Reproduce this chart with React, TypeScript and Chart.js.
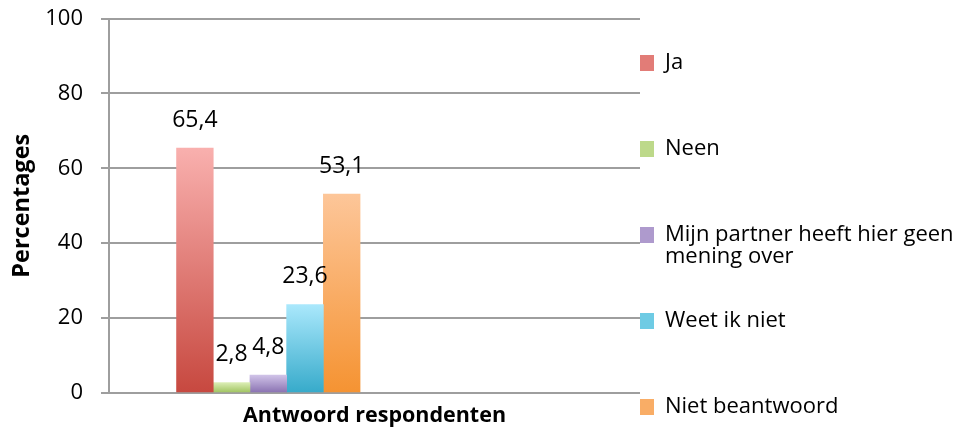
import React, { useEffect, useRef } from 'react';
import { Chart, registerables } from 'chart.js';

Chart.register(...registerables);

// ---- data ----
const categorySlots = ['', '', '', 'Antwoord respondenten', '', '', '', '', '', '', ''];
const answerCategory = 'Antwoord respondenten';
const seriesNames = ['Ja', 'Neen', 'Mijn partner heeft hier geen mening over', 'Weet ik niet', 'Niet beantwoord'];
const jaValues = [65.4];
const neenValues = [2.8];
const geenMeningValues = [4.8];
const weetNietValues = [23.6];
const nietBeantwoordValues = [53.1];
const yTicks = [0, 20, 40, 60, 80, 100];
const xAxisTitle = 'Antwoord respondenten';
const yAxisTitle = 'Percentages';
const legendLines = [['Ja'], ['Neen'], ['Mijn partner heeft hier geen', 'mening over'], ['Weet ik niet'], ['Niet beantwoord']];

// ---- styles ----
const topColors = ['#F9B0AE', '#DCEEB6', '#D0C3E8', '#AAE8FC', '#FDC699'];
const bottomColors = ['#C7483F', '#9DC25C', '#8870B0', '#36AACA', '#F59332'];
const legendColors = ['#E27C77', '#BDD98A', '#AE9ACD', '#6ECBE4', '#F9AD66'];
const FONT = '"Open Sans", "Liberation Sans", sans-serif';
const GRID = '#9E9E9E';

const seriesValues = [jaValues, neenValues, geenMeningValues, weetNietValues, nietBeantwoordValues];

function gradientFill(i: number) {
  return (ctx: any) => {
    const chart = ctx.chart;
    const y = chart.scales && chart.scales.y;
    if (ctx.type !== 'data' || !y || ctx.parsed == null) return bottomColors[i];
    const top = y.getPixelForValue(ctx.parsed.y);
    const base = y.getPixelForValue(0);
    if (!isFinite(top) || !isFinite(base) || top === base) return bottomColors[i];
    const g = chart.ctx.createLinearGradient(0, top, 0, base);
    g.addColorStop(0, topColors[i]);
    g.addColorStop(1, bottomColors[i]);
    return g;
  };
}

const valueLabels = {
  id: 'valueLabels',
  afterDatasetsDraw(chart: any) {
    const ctx = chart.ctx;
    ctx.save();
    ctx.font = `23px ${FONT}`;
    ctx.fillStyle = '#000';
    ctx.textAlign = 'center';
    ctx.textBaseline = 'middle';
    chart.data.datasets.forEach((ds: any, di: number) => {
      const meta = chart.getDatasetMeta(di);
      meta.data.forEach((el: any, j: number) => {
        const v = ds.data[j].y;
        ctx.fillText(v.toFixed(1).replace('.', ','), el.x, el.y - 28);
      });
    });
    ctx.restore();
  },
};

export default function App() {
  const ref = useRef<HTMLCanvasElement>(null);
  useEffect(() => {
    if (!ref.current) return;
    const datasets = seriesNames.map((name, i) => ({
      label: name,
      data: seriesValues[i].map((v) => ({ x: answerCategory, y: v })),
      backgroundColor: gradientFill(i),
      borderWidth: 0,
      barThickness: 36.7,
    }));
    const chart = new Chart(ref.current, {
      type: 'bar',
      data: { labels: categorySlots, datasets },
      options: {
        responsive: false,
        animation: false,
        layout: { padding: { left: 0, top: 0, right: 0, bottom: 14 } },
        scales: {
          x: {
            type: 'category',
            offset: false,
            grid: { display: false },
            border: { display: false },
            ticks: { display: false },
            title: {
              display: true,
              text: xAxisTitle,
              color: '#000',
              font: { family: FONT, size: 21.5, weight: 'bold' },
              padding: { top: 0, bottom: -10.9 },
            },
            afterFit: (s: any) => { s.height = 25; },
          },
          y: {
            min: 0,
            max: 100,
            afterBuildTicks: (s: any) => { s.ticks = yTicks.map((v) => ({ value: v })); },
            ticks: {
              color: '#000',
              padding: 18,
              font: { family: FONT, size: 22, lineHeight: 0.05 },
            },
            grid: { color: GRID, lineWidth: 2, tickLength: 8, drawTicks: true },
            border: { display: true, color: GRID, width: 2 },
            title: {
              display: true,
              text: yAxisTitle,
              color: '#000',
              font: { family: FONT, size: 23.5, weight: 'bold' },
              padding: { top: 7.9, bottom: 0 },
            },
            afterFit: (s: any) => { s.width = 109; },
          },
        },
        plugins: {
          tooltip: { enabled: false },
          legend: {
            display: true,
            position: 'right',
            align: 'end',
            maxWidth: 322,
            labels: {
              color: '#000',
              font: { family: FONT, size: 22, lineHeight: 21.5 / 22 },
              boxWidth: 14,
              boxHeight: 16,
              padding: 0,
              generateLabels: () =>
                legendLines.map((lines, i) => {
                  const isLast = i === legendLines.length - 1;
                  let text: any;
                  if (isLast) {
                    text = lines.join(' ');
                  } else {
                    text = [...lines];
                    while (text.length < 4) text.push('');
                  }
                  return {
                    text,
                    fillStyle: legendColors[i],
                    strokeStyle: legendColors[i],
                    lineWidth: 0,
                    hidden: false,
                    datasetIndex: i,
                  } as any;
                }),
            },
          },
        },
      } as any,
      plugins: [valueLabels],
    });
    return () => chart.destroy();
  }, []);
  return (
    <div style={{ position: 'absolute', left: 0, top: 0, width: 962, height: 432, background: '#fff' }}>
      <canvas ref={ref} width={962} height={432} style={{ display: 'block' }} />
    </div>
  );
}
